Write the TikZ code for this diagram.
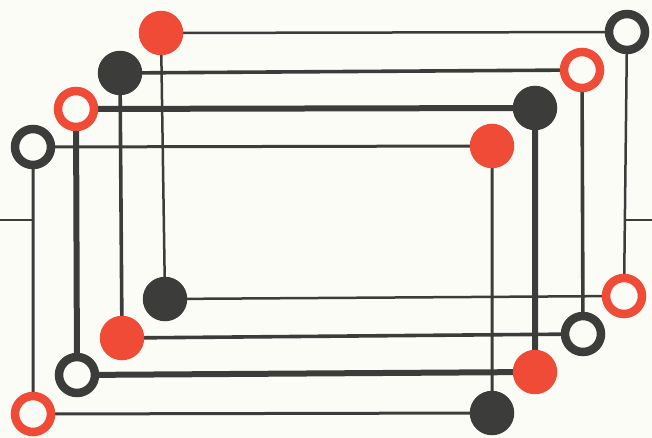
\documentclass[tikz,border=0pt]{standalone}
\usetikzlibrary{backgrounds}
\definecolor{dotred}{HTML}{EF4B36}
\definecolor{dotdark}{HTML}{3C3C3A}
\definecolor{paper}{HTML}{FCFCF7}
\begin{document}
\begin{tikzpicture}[x=1pt,y=-1pt,
  fillred/.style={circle,fill=dotred,minimum size=44.5pt,inner sep=0pt},
  filldark/.style={circle,fill=dotdark,minimum size=44.5pt,inner sep=0pt},
  ringred/.style={circle,draw=dotred,line width=8.5pt,fill=paper,minimum size=36pt,inner sep=0pt},
  ringdark/.style={circle,draw=dotdark,line width=8.5pt,fill=paper,minimum size=36pt,inner sep=0pt},
  edgeA/.style={draw=dotdark,line width=2.5pt},
  edgeB/.style={draw=dotdark,line width=3.6pt},
  edgeC/.style={draw=dotdark,line width=6pt},
  edgeD/.style={draw=dotdark,line width=3pt}]
\useasboundingbox (0,0) rectangle (652,438);
% rectangle 1
\node[fillred]  (a1) at (161,33) {};
\node[ringdark] (a2) at (627,32) {};
\node[filldark] (a3) at (165,299) {};
\node[ringred]  (a4) at (624,296) {};
% rectangle 2
\node[filldark] (b1) at (120,73) {};
\node[ringred]  (b2) at (582,70) {};
\node[fillred]  (b3) at (122,338) {};
\node[ringdark] (b4) at (583,334) {};
% rectangle 3
\node[ringred]  (c1) at (76,109) {};
\node[filldark] (c2) at (535,108) {};
\node[ringdark] (c3) at (77,375) {};
\node[fillred]  (c4) at (535,372) {};
% rectangle 4
\node[ringdark] (d1) at (33,147) {};
\node[fillred]  (d2) at (492,146) {};
\node[ringred]  (d3) at (33,414) {};
\node[filldark] (d4) at (492,413) {};
% horizon ends
\coordinate (hl0) at (0,220);
\coordinate (hl1) at (33,220);
\coordinate (hr0) at (625,220);
\coordinate (hr1) at (652,220);
\begin{pgfonlayer}{background}
  \fill[paper] (0,0) rectangle (652,438);
  \path[edgeA] (a1.center) -- (a2.center) -- (a4.center) -- (a3.center) -- cycle;
  \path[edgeB] (b1.center) -- (b2.center) -- (b4.center) -- (b3.center) -- cycle;
  \path[edgeC] (c1.center) -- (c2.center) -- (c4.center) -- (c3.center) -- cycle;
  \path[edgeD] (d1.center) -- (d2.center) -- (d4.center) -- (d3.center) -- cycle;
  \path[edgeD,line width=2pt] (hl0) -- (hl1);
  \path[edgeD,line width=2pt] (hr0) -- (hr1);
\end{pgfonlayer}
\end{tikzpicture}
\end{document}
